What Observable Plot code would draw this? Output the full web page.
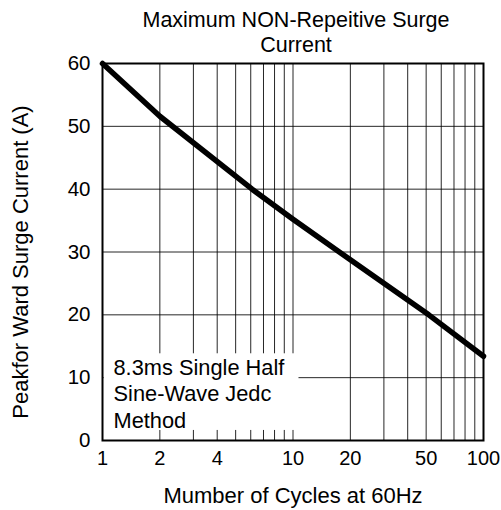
<!DOCTYPE html>
<html>
<head>
<meta charset="utf-8">
<script src="https://cdn.jsdelivr.net/npm/d3@7"></script>
<script src="https://cdn.jsdelivr.net/npm/@observablehq/plot@0.6"></script>
<style>
  body { margin: 0; background: #fff; }
  svg { font-family: "Liberation Sans", Arial, sans-serif; }
</style>
</head>
<body>
<div id="chart"></div>
<script>
// Data
const cycles = [1, 2, 6.1, 10, 17.5, 51.6, 100];
const current = [60, 51.6, 40, 35.2, 30, 20, 13.4];

const xTicks = [1, 2, 4, 10, 20, 50, 100];
const yTicks = [0, 10, 20, 30, 40, 50, 60];
const xGrid = [2, 3, 4, 5, 6, 7, 8, 9, 10, 20, 30, 40, 50, 60, 70, 80, 90];
const yGrid = [10, 20, 30, 40, 50];

const titleLines = ["Maximum NON-Repeitive Surge", "Current"];
const xLabel = "Mumber of Cycles at 60Hz";
const yLabel = "Peakfor Ward Surge Current (A)";
const noteLines = ["8.3ms Single Half", "Sine-Wave Jedc", "Method"];
// note box extent in data units
const noteX = [1.02, 10.75];
const noteY = [1.6, 13.8];

const data = cycles.map((c, i) => ({x: c, y: current[i]}));

const chart = Plot.plot({
  width: 501,
  height: 510,
  marginTop: 63,
  marginLeft: 102,
  marginRight: 18,
  marginBottom: 70,
  style: {fontFamily: "'Liberation Sans', Arial, sans-serif", color: "#000", background: "#fff"},
  x: {type: "log", domain: [1, 100], axis: null},
  y: {domain: [0, 60], axis: null},
  marks: [
    Plot.ruleX(xGrid, {stroke: "#000", strokeWidth: 1, strokeOpacity: 0.85}),
    Plot.ruleY(yGrid, {stroke: "#000", strokeWidth: 1, strokeOpacity: 0.85}),
    Plot.rect([{x1: noteX[0], x2: noteX[1], y1: noteY[0], y2: noteY[1]}], {x1: "x1", x2: "x2", y1: "y1", y2: "y2", fill: "#fff"}),
    Plot.text([noteLines.join("\n")], {
      text: d => d,
      frameAnchor: "bottom-left",
      lineAnchor: "bottom",
      lineHeight: 1.2,
      fontSize: 21.8,
      dx: 11,
      dy: -13
    }),
    Plot.frame({stroke: "#000", strokeWidth: 2}),
    Plot.line(data, {x: "x", y: "y", stroke: "#000", strokeWidth: 5.5}),
    Plot.text(xTicks, {x: d => d, frameAnchor: "bottom", lineAnchor: "top", dy: 10, fontSize: 20, text: d => String(d)}),
    Plot.text(yTicks, {y: d => d, frameAnchor: "left", textAnchor: "end", dx: -12, fontSize: 20.5, text: d => String(d)}),
    Plot.text([xLabel], {frameAnchor: "bottom", lineAnchor: "middle", dy: 55, fontSize: 22, text: d => d}),
    Plot.text([yLabel], {frameAnchor: "left", textAnchor: "middle", lineAnchor: "middle", dx: -82, dy: 10, rotate: -90, fontSize: 22, text: d => d}),
    Plot.text([titleLines[0]], {frameAnchor: "top", lineAnchor: "middle", dy: -43, dx: 3, fontSize: 21.5, text: d => d}),
    Plot.text([titleLines[1]], {frameAnchor: "top", lineAnchor: "middle", dy: -18, dx: 3, fontSize: 21.5, text: d => d})
  ]
});
document.getElementById("chart").appendChild(chart);
</script>
</body>
</html>
